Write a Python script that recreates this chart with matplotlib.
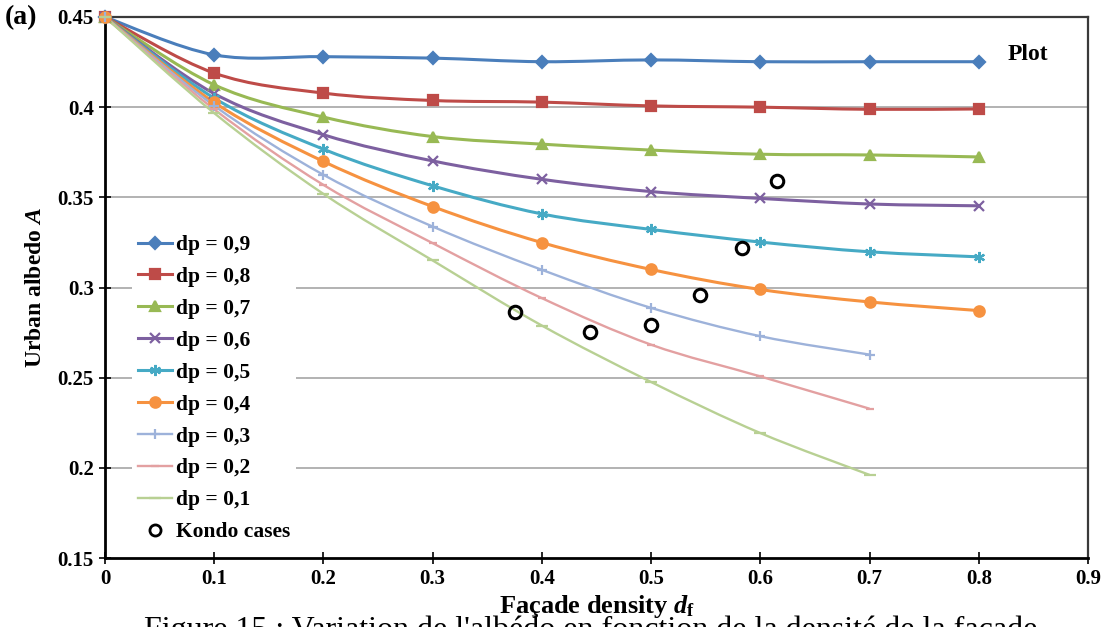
import numpy as np
import matplotlib.pyplot as plt
from matplotlib.path import Path
from matplotlib.patches import PathPatch
from matplotlib.lines import Line2D

plt.rcParams["font.family"] = ["Liberation Serif", "DejaVu Serif"]
plt.rcParams["mathtext.fontset"] = "custom"
plt.rcParams["mathtext.rm"] = "Liberation Serif"
plt.rcParams["mathtext.it"] = "Liberation Serif:italic:bold"
plt.rcParams["mathtext.bf"] = "Liberation Serif:bold"

# ── data ───────────────────────────────────────────────────────────────────
df_full = [0, 0.1, 0.2, 0.3, 0.4, 0.5, 0.6, 0.7, 0.8]
df_short = [0, 0.1, 0.2, 0.3, 0.4, 0.5, 0.6, 0.7]

dp_09 = [0.45, 0.429, 0.428, 0.4272, 0.4252, 0.4262, 0.4252, 0.4252, 0.4252]
dp_08 = [0.45, 0.4189, 0.4078, 0.4037, 0.4028, 0.4007, 0.4000, 0.3988, 0.3990]
dp_07 = [0.45, 0.4124, 0.3945, 0.3837, 0.3795, 0.3762, 0.3739, 0.3735, 0.3724]
dp_06 = [0.45, 0.4075, 0.3847, 0.3702, 0.3600, 0.3532, 0.3494, 0.3463, 0.3453]
dp_05 = [0.45, 0.4050, 0.3767, 0.3564, 0.3408, 0.3322, 0.3252, 0.3198, 0.3170]
dp_04 = [0.45, 0.4026, 0.3699, 0.3449, 0.3249, 0.3100, 0.2989, 0.2920, 0.2872]
dp_03 = [0.45, 0.4008, 0.3625, 0.3338, 0.3098, 0.2887, 0.2730, 0.2628]
dp_02 = [0.45, 0.3988, 0.3569, 0.3246, 0.2941, 0.2683, 0.2507, 0.2328]
dp_01 = [0.45, 0.3967, 0.3519, 0.3150, 0.2789, 0.2476, 0.2193, 0.1961]

kondo_x = [0.375, 0.444, 0.500, 0.545, 0.583, 0.615]
kondo_y = [0.2865, 0.2754, 0.2793, 0.2961, 0.3217, 0.3593]

series = [
    ("dp = 0,9", df_full, dp_09, "#4A7EBB", "D", 6, 2.2),
    ("dp = 0,8", df_full, dp_08, "#BE4B48", "s", 7.5, 2.2),
    ("dp = 0,7", df_full, dp_07, "#98B954", "^", 7.5, 2.2),
    ("dp = 0,6", df_full, dp_06, "#7D60A0", "x", 7, 2.2),
    ("dp = 0,5", df_full, dp_05, "#46AAC5", (6, 2, 0), 8, 2.2),
    ("dp = 0,4", df_full, dp_04, "#F69240", "o", 7.5, 2.2),
    ("dp = 0,3", df_short, dp_03, "#9DB2DA", "+", 7, 1.7),
    ("dp = 0,2", df_short, dp_02, "#E3A0A1", "_", 6, 1.7),
    ("dp = 0,1", df_short, dp_01, "#B8D093", "_", 9, 1.7),
]


def smooth_path(x, y):
    # Excel-like smoothed line: cubic bezier through the points
    p = np.column_stack([x, y])
    n = len(p)
    verts = [p[0]]
    codes = [Path.MOVETO]
    for i in range(n - 1):
        p_prev = p[i - 1] if i > 0 else p[i]
        p_next2 = p[i + 2] if i + 2 < n else p[i + 1]
        c1 = p[i] + (p[i + 1] - p_prev) / 6.0
        c2 = p[i + 1] - (p_next2 - p[i]) / 6.0
        verts += [c1, c2, p[i + 1]]
        codes += [Path.CURVE4] * 3
    return Path(verts, codes)


fig = plt.figure(figsize=(11.04, 6.27), dpi=100)
ax = fig.add_axes([0.0951, 0.110, 0.8904, 0.8629])

for y in [0.2, 0.25, 0.3, 0.35, 0.4]:
    ax.axhline(y, color="#A6A6A6", lw=1.2, zorder=0)

handles = []
for label, xs, ys, col, mk, ms, lw in series:
    ax.add_patch(PathPatch(smooth_path(xs, ys), fill=False, edgecolor=col,
                           lw=lw, zorder=2, clip_on=False))
    ax.plot(xs, ys, ls="none", marker=mk, ms=ms, color=col, mec=col,
            mew=1.6, zorder=3, clip_on=False)
    handles.append(Line2D([], [], color=col, lw=lw, marker=mk, ms=ms,
                          mec=col, mew=1.6, label=label))

ax.plot(kondo_x, kondo_y, ls="none", marker="o", ms=9, mfc="none",
        mec="black", mew=2.2, zorder=4)
handles.append(Line2D([], [], ls="none", marker="o", ms=8, mfc="none",
                      mec="black", mew=2.0, label="Kondo cases"))

ax.set_xlim(0, 0.9)
ax.set_ylim(0.15, 0.45)
ax.set_xticks(np.arange(0, 0.91, 0.1))
ax.set_xticklabels(["0", "0.1", "0.2", "0.3", "0.4", "0.5", "0.6", "0.7", "0.8", "0.9"])
ax.set_yticks([0.15, 0.2, 0.25, 0.3, 0.35, 0.4, 0.45])
ax.set_yticklabels(["0.15", "0.2", "0.25", "0.3", "0.35", "0.4", "0.45"])
ax.tick_params(direction="inout", length=8, width=1.2, labelsize=15, pad=4)
for t in ax.get_xticklabels() + ax.get_yticklabels():
    t.set_fontweight("bold")

for s in ["left", "bottom"]:
    ax.spines[s].set_linewidth(2.0)
    ax.spines[s].set_color("black")
for s in ["top", "right"]:
    ax.spines[s].set_linewidth(1.6)
    ax.spines[s].set_color("#3A3A3A")

ax.set_ylabel(r"Urban albedo $\mathit{A}$", fontsize=17, fontweight="bold", labelpad=8)
ax.set_xlabel(r"Façade density $\mathit{d}_{\mathbf{f}}$", fontsize=19,
              fontweight="bold", labelpad=3)

leg = ax.legend(handles=handles, loc="upper left",
                bbox_to_anchor=(0.027, 0.609), frameon=True, facecolor="white",
                edgecolor="none", framealpha=1, fancybox=False,
                prop={"weight": "bold", "size": 15.5}, handlelength=1.6,
                handletextpad=0.15, labelspacing=0.55, borderpad=0.3,
                borderaxespad=0)
leg.set_zorder(5)

ax.text(0.96, 0.93, "Plot", transform=ax.transAxes, fontsize=17,
        fontweight="bold", ha="right", va="center")
fig.text(0.004, 0.972, "(a)", fontsize=20, fontweight="bold", va="center")
fig.text(0.535, 0.019, "Figure 15 : Variation de l'albédo en fonction de la densité de la façade",
         fontsize=23, ha="center", va="top")

fig.savefig("out.png", dpi=100)
